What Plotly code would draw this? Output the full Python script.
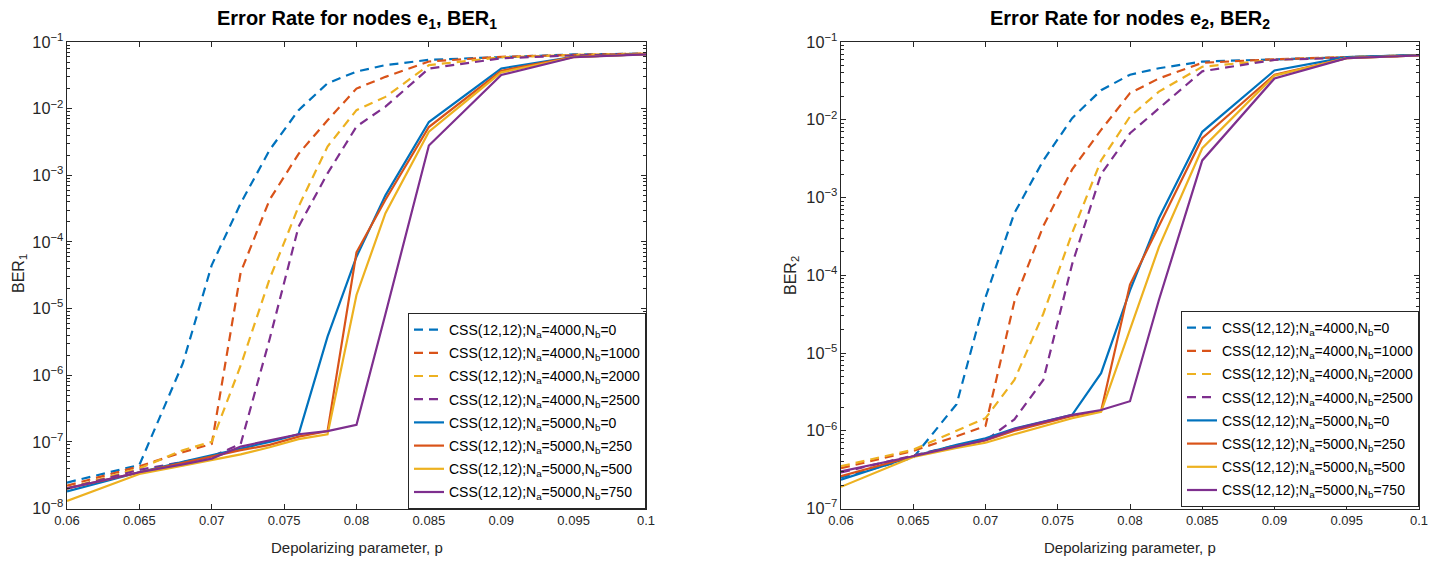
import plotly.graph_objects as go

p = [0.06, 0.065, 0.068, 0.07, 0.072, 0.074, 0.076, 0.078, 0.08, 0.082, 0.085, 0.09, 0.095, 0.1]

# BER1 (left panel)
b1_a4000_b0    = [2.45e-8, 4.5e-8, 1.5e-6, 4.5e-5, 3.8e-4, 2.4e-3, 9.5e-3, 2.4e-2, 3.6e-2, 4.5e-2, 5.4e-2, 6.0e-2, 6.5e-2, 6.7e-2]
b1_a4000_b1000 = [2.2e-8, 4.3e-8, 7.0e-8, 9.3e-8, 3.5e-5, 4.3e-4, 2.1e-3, 6.7e-3, 2.0e-2, 3.0e-2, 5.1e-2, 6.0e-2, 6.4e-2, 6.7e-2]
b1_a4000_b2000 = [2.0e-8, 4.0e-8, 7.5e-8, 1.0e-7, 1.4e-6, 2.8e-5, 3.4e-4, 2.7e-3, 9.5e-3, 1.5e-2, 4.5e-2, 5.9e-2, 6.4e-2, 6.7e-2]
b1_a4000_b2500 = [2.0e-8, 3.8e-8, 5.0e-8, 6.0e-8, 9.3e-8, 3.5e-6, 1.7e-4, 1.07e-3, 5.4e-3, 1.07e-2, 4.0e-2, 5.7e-2, 6.3e-2, 6.6e-2]
b1_a5000_b0    = [1.8e-8, 3.5e-8, 5.0e-8, 6.3e-8, 8.0e-8, 1.0e-7, 1.3e-7, 3.8e-6, 6.0e-5, 5.0e-4, 6.3e-3, 4.0e-2, 6.0e-2, 6.6e-2]
b1_a5000_b250  = [2.0e-8, 3.5e-8, 4.8e-8, 6.0e-8, 7.5e-8, 9.0e-8, 1.2e-7, 1.45e-7, 7.0e-5, 4.3e-4, 5.3e-3, 3.7e-2, 6.0e-2, 6.6e-2]
b1_a5000_b500  = [1.3e-8, 3.3e-8, 4.4e-8, 5.3e-8, 6.5e-8, 8.3e-8, 1.1e-7, 1.3e-7, 1.6e-5, 2.7e-4, 4.5e-3, 3.5e-2, 5.9e-2, 6.6e-2]
b1_a5000_b750  = [2.0e-8, 3.5e-8, 4.6e-8, 5.6e-8, 8.5e-8, 1.05e-7, 1.3e-7, 1.45e-7, 1.8e-7, 8.3e-6, 2.8e-3, 3.2e-2, 5.9e-2, 6.5e-2]

# BER2 (right panel)
b2_a4000_b0    = [2.5e-7, 4.5e-7, 2.2e-6, 5.2e-5, 6.3e-4, 3.0e-3, 1.05e-2, 2.4e-2, 3.8e-2, 4.6e-2, 5.6e-2, 6.0e-2, 6.4e-2, 6.8e-2]
b2_a4000_b1000 = [3.3e-7, 5.5e-7, 8.5e-7, 1.15e-6, 4.6e-5, 4.3e-4, 2.3e-3, 7.4e-3, 2.2e-2, 3.4e-2, 5.4e-2, 6.0e-2, 6.4e-2, 6.8e-2]
b2_a4000_b2000 = [3.5e-7, 5.7e-7, 1.0e-6, 1.45e-6, 4.5e-6, 3.2e-5, 3.5e-4, 3.0e-3, 1.1e-2, 2.3e-2, 4.8e-2, 5.9e-2, 6.4e-2, 6.8e-2]
b2_a4000_b2500 = [2.9e-7, 4.8e-7, 6.5e-7, 7.5e-7, 1.4e-6, 4.5e-6, 1.4e-4, 2.0e-3, 6.7e-3, 1.4e-2, 4.2e-2, 5.9e-2, 6.3e-2, 6.7e-2]
b2_a5000_b0    = [2.35e-7, 4.7e-7, 6.6e-7, 8.0e-7, 1.07e-6, 1.3e-6, 1.6e-6, 5.5e-6, 6.4e-5, 5.4e-4, 7.0e-3, 4.3e-2, 6.4e-2, 6.8e-2]
b2_a5000_b250  = [2.6e-7, 4.7e-7, 6.3e-7, 7.5e-7, 1.0e-6, 1.25e-6, 1.55e-6, 1.8e-6, 7.6e-5, 4.3e-4, 5.8e-3, 3.8e-2, 6.2e-2, 6.7e-2]
b2_a5000_b500  = [1.9e-7, 4.6e-7, 6.0e-7, 7.0e-7, 9.0e-7, 1.15e-6, 1.45e-6, 1.75e-6, 2.0e-5, 2.3e-4, 4.3e-3, 3.7e-2, 6.2e-2, 6.7e-2]
b2_a5000_b750  = [3.0e-7, 4.7e-7, 6.3e-7, 7.6e-7, 1.05e-6, 1.3e-6, 1.6e-6, 1.85e-6, 2.4e-6, 4.8e-5, 3.0e-3, 3.4e-2, 6.2e-2, 6.7e-2]

names = [
    "CSS(12,12);N<sub>a</sub>=4000,N<sub>b</sub>=0",
    "CSS(12,12);N<sub>a</sub>=4000,N<sub>b</sub>=1000",
    "CSS(12,12);N<sub>a</sub>=4000,N<sub>b</sub>=2000",
    "CSS(12,12);N<sub>a</sub>=4000,N<sub>b</sub>=2500",
    "CSS(12,12);N<sub>a</sub>=5000,N<sub>b</sub>=0",
    "CSS(12,12);N<sub>a</sub>=5000,N<sub>b</sub>=250",
    "CSS(12,12);N<sub>a</sub>=5000,N<sub>b</sub>=500",
    "CSS(12,12);N<sub>a</sub>=5000,N<sub>b</sub>=750",
]
colors = ["#0072BD", "#D95319", "#EDB120", "#7E2F8E"] * 2
dashes = ["9px,6px"] * 4 + ["solid"] * 4

ber1 = [b1_a4000_b0, b1_a4000_b1000, b1_a4000_b2000, b1_a4000_b2500,
        b1_a5000_b0, b1_a5000_b250, b1_a5000_b500, b1_a5000_b750]
ber2 = [b2_a4000_b0, b2_a4000_b1000, b2_a4000_b2000, b2_a4000_b2500,
        b2_a5000_b0, b2_a5000_b250, b2_a5000_b500, b2_a5000_b750]

xtickvals = [0.06, 0.065, 0.07, 0.075, 0.08, 0.085, 0.09, 0.095, 0.1]
xticktext = ["0.06", "0.065", "0.07", "0.075", "0.08", "0.085", "0.09", "0.095", "0.1"]

W, H = 1433, 561
FONT = "Liberation Sans, Arial, Helvetica, sans-serif"
AX = "#262626"

fig = go.Figure()
for i in range(8):
    fig.add_trace(go.Scatter(x=p, y=ber1[i], mode="lines", name=names[i],
                             line=dict(color=colors[i], width=2.2, dash=dashes[i]),
                             xaxis="x", yaxis="y", legend="legend", legendgroup="L%d" % i))
for i in range(8):
    fig.add_trace(go.Scatter(x=p, y=ber2[i], mode="lines", name=names[i],
                             line=dict(color=colors[i], width=2.2, dash=dashes[i]),
                             xaxis="x2", yaxis="y2", legend="legend2", legendgroup="R%d" % i))

def xax(domain, anchor):
    return dict(domain=domain, anchor=anchor, range=[0.06, 0.1], tickvals=xtickvals, ticktext=xticktext,
                ticks="inside", ticklen=5, tickcolor=AX, showline=True, linecolor=AX, linewidth=1,
                mirror="ticks", showgrid=False, zeroline=False, automargin=False,
                tickfont=dict(family=FONT, size=13, color=AX))

def yax(domain, anchor, rng):
    return dict(domain=domain, anchor=anchor, type="log", range=rng, dtick=1, exponentformat="power",
                ticks="inside", ticklen=5, tickcolor=AX, showline=True, linecolor=AX, linewidth=1,
                mirror="ticks", showgrid=False, zeroline=False, automargin=False,
                minor=dict(ticks="inside", ticklen=3, tickcolor=AX, showgrid=False),
                tickfont=dict(family=FONT, size=13, color=AX))

legfont = dict(family=FONT, size=14, color="black")
yd = [1 - 508.5 / H, 1 - 42 / H]
fig.update_layout(
    width=W, height=H, margin=dict(l=0, r=0, t=0, b=0),
    paper_bgcolor="white", plot_bgcolor="white",
    font=dict(family=FONT, size=13, color=AX),
    xaxis=xax([67 / W, 646 / W], "y"),
    yaxis=yax(yd, "x", [-8, -1]),
    xaxis2=xax([841 / W, 1419 / W], "y2"),
    yaxis2=yax(yd, "x2", [-7, -1]),
    legend=dict(x=646 / W, xanchor="right", y=1 - 509 / H, yanchor="bottom",
                bgcolor="white", bordercolor=AX, borderwidth=1, itemwidth=30,
                font=legfont, tracegroupgap=2),
    legend2=dict(x=1419 / W, xanchor="right", y=1 - 507 / H, yanchor="bottom",
                 bgcolor="white", bordercolor=AX, borderwidth=1, itemwidth=30,
                 font=legfont, tracegroupgap=2),
    showlegend=True,
)

ann = [
    dict(text="<b>Error Rate for nodes e<sub>1</sub>, BER<sub>1</sub></b>", x=356.5 / W, y=1 - 20 / H,
         font=dict(size=20, color="black")),
    dict(text="<b>Error Rate for nodes e<sub>2</sub>, BER<sub>2</sub></b>", x=1130 / W, y=1 - 20 / H,
         font=dict(size=20, color="black")),
    dict(text="Depolarizing parameter, p", x=356.5 / W, y=1 - 547 / H, font=dict(size=15, color=AX)),
    dict(text="Depolarizing parameter, p", x=1130 / W, y=1 - 547 / H, font=dict(size=15, color=AX)),
    dict(text="BER<sub>1</sub>", x=19 / W, y=1 - 274 / H, textangle=-90, font=dict(size=16, color=AX)),
    dict(text="BER<sub>2</sub>", x=791 / W, y=1 - 276 / H, textangle=-90, font=dict(size=16, color=AX)),
]
for a in ann:
    a.update(xref="paper", yref="paper", showarrow=False, xanchor="center", yanchor="middle")
    a["font"]["family"] = FONT
fig.update_layout(annotations=ann)

fig.write_html("out.html")
